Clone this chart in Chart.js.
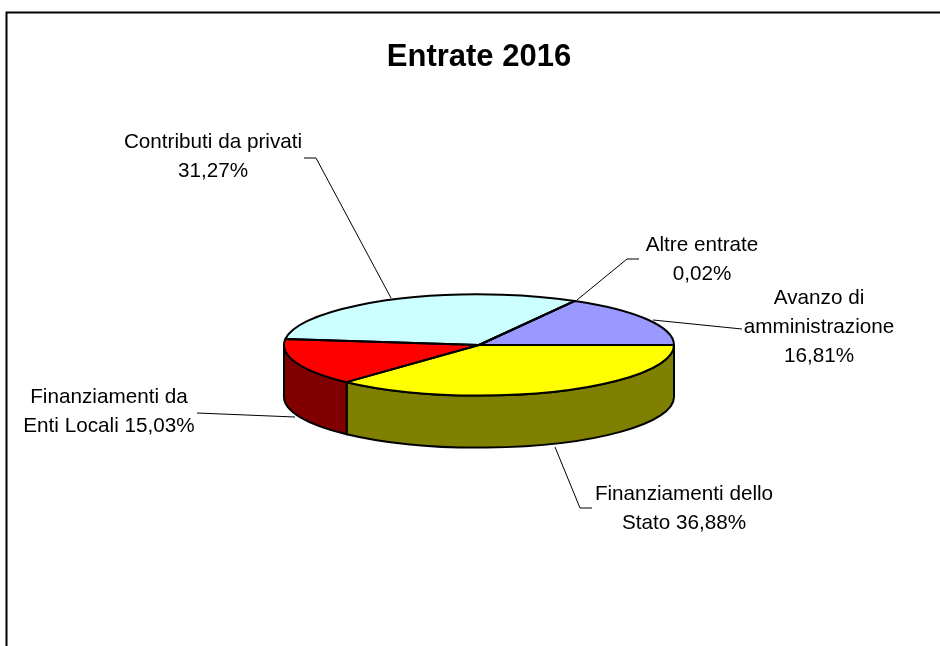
<!DOCTYPE html>
<html>
<head>
<meta charset="utf-8">
<style>
html,body{margin:0;padding:0;background:#fff;overflow:hidden}
#wrap{position:absolute;left:0;top:0;width:940px;height:646px}
</style>
<script src="https://cdn.jsdelivr.net/npm/chart.js@4"></script>
</head>
<body>
<div id="wrap"><canvas id="c" width="940" height="646"></canvas></div>
<script>
const chartTitle = 'Entrate 2016';
const categories = ['Finanziamenti dello Stato','Finanziamenti da Enti Locali','Contributi da privati','Altre entrate','Avanzo di amministrazione'];
const values = [36.88, 15.03, 31.27, 0.02, 16.81];
const topColors = ['#FFFF00','#FF0000','#CCFFFF','#000080','#9999FF'];
const wallColors = ['#808000','#800000','#669999','#000040','#4D4D80'];
const labelLines = [
  ['Finanziamenti dello','Stato 36,88%'],
  ['Finanziamenti da','Enti Locali 15,03%'],
  ['Contributi da privati','31,27%'],
  ['Altre entrate','0,02%'],
  ['Avanzo di','amministrazione','16,81%']
];
const labelCentres = [[684,509],[109,412],[213,157],[702,260],[819,327]];
const leaders = [
  [[555,447],[580,508],[592,508]],
  [[295,417],[197,413]],
  [[391,298],[316,158],[304,158]],
  [[577,300],[627,259],[639,259]],
  [[653,320],[742,329]]
];
const squash = 0.2595;
const depth = 52;
const LINE = '#000';

function squashed(ctx, el, fn){
  ctx.save();
  ctx.translate(el.x, el.y);
  ctx.scale(1, squash);
  ctx.translate(-el.x, -el.y);
  fn();
  ctx.restore();
}
function wedgePath(ctx, el){
  ctx.beginPath();
  ctx.moveTo(el.x, el.y);
  ctx.arc(el.x, el.y, el.outerRadius, el.startAngle, el.endAngle);
  ctx.closePath();
}
function norm(a){ const t = Math.PI*2; return ((a % t) + t) % t; }

const pie3d = {
  id: 'pie3d',
  beforeDatasetsDraw(chart){
    const ctx = chart.ctx;
    const els = chart.getDatasetMeta(0).data;
    els.forEach((el, i) => {
      const s = norm(el.startAngle);
      const span = el.endAngle - el.startAngle;
      const a0 = s, a1 = Math.min(s + span, Math.PI);
      if (a0 >= Math.PI || a1 <= a0) return;
      const r = el.outerRadius, ry = r * squash;
      ctx.save();
      ctx.beginPath();
      ctx.ellipse(el.x, el.y, r, ry, 0, a0, a1);
      ctx.lineTo(el.x + r*Math.cos(a1), el.y + ry*Math.sin(a1) + depth);
      ctx.ellipse(el.x, el.y + depth, r, ry, 0, a1, a0, true);
      ctx.closePath();
      ctx.fillStyle = wallColors[i];
      ctx.fill();
      ctx.lineWidth = 2;
      ctx.strokeStyle = LINE;
      ctx.stroke();
      ctx.restore();
    });
    ctx.save();
    const e = els[0];
    ctx.translate(e.x, e.y);
    ctx.scale(1, squash);
    ctx.translate(-e.x, -e.y);
  },
  afterDatasetsDraw(chart){
    const ctx = chart.ctx;
    ctx.restore();
    const els = chart.getDatasetMeta(0).data;
    els.forEach(el => {
      ctx.save();
      squashed(ctx, el, () => wedgePath(ctx, el));
      ctx.lineWidth = 2;
      ctx.lineJoin = 'round';
      ctx.strokeStyle = LINE;
      ctx.stroke();
      ctx.restore();
    });
    ctx.save();
    ctx.strokeStyle = LINE;
    ctx.lineWidth = 1;
    leaders.forEach(pts => {
      ctx.beginPath();
      pts.forEach((p, k) => k ? ctx.lineTo(p[0], p[1]) : ctx.moveTo(p[0], p[1]));
      ctx.stroke();
    });
    ctx.fillStyle = '#000';
    ctx.font = '20.7px "Liberation Sans", Arial, sans-serif';
    ctx.textAlign = 'center';
    ctx.textBaseline = 'middle';
    labelLines.forEach((lines, i) => {
      const [cx, cy] = labelCentres[i];
      const lh = 29;
      lines.forEach((t, k) => ctx.fillText(t, cx, cy + (k - (lines.length-1)/2) * lh));
    });
    ctx.lineWidth = 2;
    ctx.strokeStyle = LINE;
    ctx.beginPath();
    ctx.moveTo(6.5, 646);
    ctx.lineTo(6.5, 12.5);
    ctx.lineTo(940, 12.5);
    ctx.stroke();
    ctx.restore();
  }
};

new Chart(document.getElementById('c'), {
  type: 'pie',
  data: {
    labels: categories,
    datasets: [{ data: values, backgroundColor: topColors, borderWidth: 0, hoverOffset: 0 }]
  },
  plugins: [pie3d],
  options: {
    responsive: false,
    animation: false,
    rotation: 90,
    layout: { padding: { left: 284, right: 266, top: 20, bottom: 106 } },
    plugins: {
      legend: { display: false },
      tooltip: { enabled: false },
      title: {
        display: true,
        text: chartTitle,
        color: '#000',
        font: { family: '"Liberation Sans", Arial, sans-serif', size: 31, weight: 'bold' },
        padding: { top: 18.4, bottom: 74.4 }
      }
    }
  }
});
</script>
</body>
</html>
